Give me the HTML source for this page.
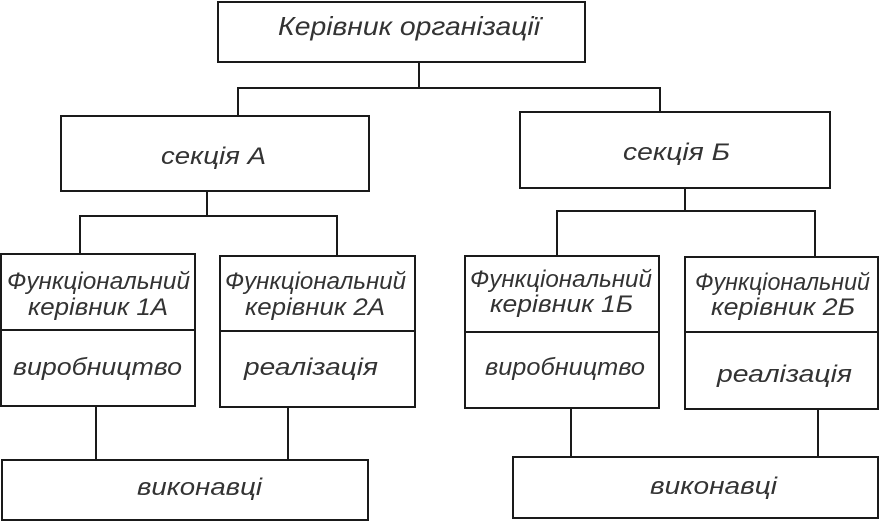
<!DOCTYPE html>
<html><head><meta charset="utf-8"><style>
html,body{margin:0;padding:0;background:#fff;}
svg{display:block;}
text{font-family:"Liberation Sans","DejaVu Sans",sans-serif;font-style:italic;fill:#333;}
</style></head><body>
<svg width="881" height="523" viewBox="0 0 881 523" xmlns="http://www.w3.org/2000/svg">
<g fill="none" stroke="#1a1a1a" stroke-width="2">
<rect x="218" y="2" width="367" height="60"/>
<polyline points="419,62 419,88"/>
<polyline points="238,116 238,88 660,88 660,112"/>
<rect x="61" y="116" width="308" height="75"/>
<rect x="520" y="112" width="310" height="76"/>
<polyline points="207,191 207,216"/>
<polyline points="80,254 80,216 337,216 337,256"/>
<polyline points="685,188 685,211"/>
<polyline points="557,256 557,211 815,211 815,257"/>
<rect x="1" y="254" width="194" height="152"/><line x1="1" y1="330" x2="195" y2="330"/>
<rect x="220" y="256" width="195" height="151"/><line x1="220" y1="331" x2="415" y2="331"/>
<rect x="465" y="256" width="194" height="152"/><line x1="465" y1="332" x2="659" y2="332"/>
<rect x="685" y="257" width="193" height="152"/><line x1="685" y1="332" x2="878" y2="332"/>
<line x1="96" y1="406" x2="96" y2="460"/>
<line x1="288" y1="407" x2="288" y2="460"/>
<line x1="571" y1="408" x2="571" y2="457"/>
<line x1="818" y1="409" x2="818" y2="457"/>
<rect x="2" y="460" width="366" height="60"/>
<rect x="513" y="457" width="365" height="61"/>
</g>
<g style="font-size:24px">
<text x="278" y="35" textLength="262" lengthAdjust="spacingAndGlyphs" style="font-size:26px">Керівник організації</text>
<text x="161" y="164" textLength="105" lengthAdjust="spacingAndGlyphs">секція А</text>
<text x="623" y="160" textLength="107" lengthAdjust="spacingAndGlyphs">секція Б</text>
<text x="7" y="289" textLength="183" lengthAdjust="spacingAndGlyphs">Функціональний</text>
<text x="28" y="315" textLength="140" lengthAdjust="spacingAndGlyphs">керівник 1А</text>
<text x="13" y="375" textLength="169" lengthAdjust="spacingAndGlyphs">виробництво</text>
<text x="225" y="289" textLength="181" lengthAdjust="spacingAndGlyphs">Функціональний</text>
<text x="245" y="315" textLength="140" lengthAdjust="spacingAndGlyphs">керівник 2А</text>
<text x="244" y="375" textLength="134" lengthAdjust="spacingAndGlyphs">реалізація</text>
<text x="470" y="287" textLength="182" lengthAdjust="spacingAndGlyphs">Функціональний</text>
<text x="490" y="312" textLength="143" lengthAdjust="spacingAndGlyphs">керівник 1Б</text>
<text x="485" y="375" textLength="160" lengthAdjust="spacingAndGlyphs">виробництво</text>
<text x="695" y="290" textLength="175" lengthAdjust="spacingAndGlyphs">Функціональний</text>
<text x="711" y="315" textLength="144" lengthAdjust="spacingAndGlyphs">керівник 2Б</text>
<text x="717" y="382" textLength="135" lengthAdjust="spacingAndGlyphs">реалізація</text>
<text x="137" y="495" textLength="125" lengthAdjust="spacingAndGlyphs">виконавці</text>
<text x="650" y="494" textLength="127" lengthAdjust="spacingAndGlyphs">виконавці</text>
</g>
</svg>
</body></html>
